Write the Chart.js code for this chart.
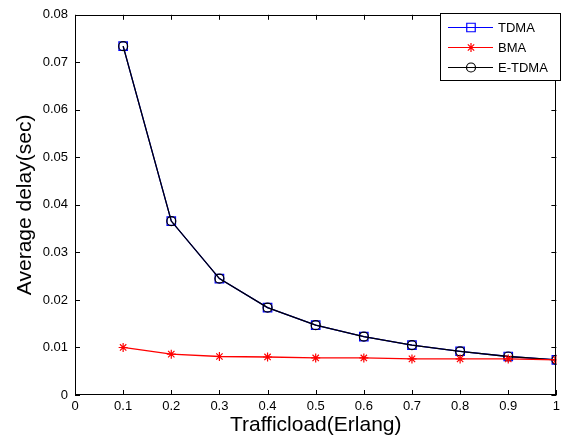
<!DOCTYPE html>
<html>
<head>
<meta charset="utf-8">
<script src="https://cdn.jsdelivr.net/npm/chart.js@4/dist/chart.umd.min.js"></script>
<style>
  html, body { margin: 0; padding: 0; background: #ffffff; }
  canvas { display: block; }
</style>
</head>
<body>
<canvas id="delayChart" width="564" height="443"></canvas>
<script>
// Traffic load (Erlang) at which each scheme was evaluated
const loads = [0.1, 0.2, 0.3, 0.4, 0.5, 0.6, 0.7, 0.8, 0.9, 1.0];

// Average delay in seconds for each scheme
const tdmaDelay  = [0.0734, 0.0366, 0.0245, 0.0184, 0.0147, 0.0123, 0.0105, 0.0092, 0.0081, 0.0074];
const bmaDelay   = [0.0100, 0.0086, 0.0081, 0.0080, 0.0078, 0.0078, 0.0076, 0.0076, 0.0076, 0.0074];
const etdmaDelay = [0.0734, 0.0366, 0.0245, 0.0184, 0.0147, 0.0123, 0.0105, 0.0092, 0.0081, 0.0074];

// Axis ticks and their labels
const xTicks = [0, 0.1, 0.2, 0.3, 0.4, 0.5, 0.6, 0.7, 0.8, 0.9, 1];
const xTickLabels = ['0', '0.1', '0.2', '0.3', '0.4', '0.5', '0.6', '0.7', '0.8', '0.9', '1'];
const yTicks = [0, 0.01, 0.02, 0.03, 0.04, 0.05, 0.06, 0.07, 0.08];
const yTickLabels = ['0', '0.01', '0.02', '0.03', '0.04', '0.05', '0.06', '0.07', '0.08'];

const seriesNames = ['TDMA', 'BMA', 'E-TDMA'];
const xTitle = 'Trafficload(Erlang)';
const yTitle = 'Average delay(sec)';

const FONT = '"Liberation Sans", Arial, Helvetica, sans-serif';

const toPoints = (ys) => loads.map((x, i) => ({ x: x, y: ys[i] }));

// Box frame, inward tick marks, axis titles and legend
const framePlugin = {
  id: 'frame',
  afterDraw(chart) {
    const ctx = chart.ctx;
    const a = chart.chartArea;
    const xs = chart.scales.x;
    const ys = chart.scales.y;
    const tick = 5;
    ctx.save();
    ctx.strokeStyle = '#000000';
    ctx.lineWidth = 1;
    // box
    ctx.strokeRect(Math.round(a.left) + 0.5, Math.round(a.top) + 0.5,
                   Math.round(a.right - a.left) - 1, Math.round(a.bottom - a.top) - 1);
    ctx.beginPath();
    xTicks.forEach(v => {
      const px = Math.round(xs.getPixelForValue(v)) + 0.5;
      ctx.moveTo(px, a.bottom);
      ctx.lineTo(px, a.bottom - tick);
      ctx.moveTo(px, a.top);
      ctx.lineTo(px, a.top + tick);
    });
    yTicks.forEach(v => {
      const py = Math.round(ys.getPixelForValue(v)) + 0.5;
      ctx.moveTo(a.left, py);
      ctx.lineTo(a.left + tick, py);
      ctx.moveTo(a.right, py);
      ctx.lineTo(a.right - tick, py);
    });
    ctx.stroke();

    // axis titles
    ctx.fillStyle = '#000000';
    ctx.font = '21px ' + FONT;
    ctx.textAlign = 'center';
    ctx.textBaseline = 'middle';
    ctx.fillText(xTitle, (a.left + a.right) / 2, 425);
    ctx.save();
    ctx.translate(25, (a.top + a.bottom) / 2);
    ctx.rotate(-Math.PI / 2);
    ctx.fillText(yTitle, 0, 0);
    ctx.restore();

    // legend
    const lx = 440.5, ly = 13.5, lw = 120, lh = 67;
    ctx.fillStyle = '#ffffff';
    ctx.fillRect(lx, ly, lw, lh);
    ctx.strokeStyle = '#000000';
    ctx.strokeRect(lx, ly, lw, lh);
    const rows = [27, 47, 67];
    chart.data.datasets.forEach((ds) => {
      const ry = rows[seriesNames.indexOf(ds.label)];
      ctx.strokeStyle = ds.borderColor;
      ctx.lineWidth = 1.2;
      ctx.beginPath();
      ctx.moveTo(448, ry + 0.5);
      ctx.lineTo(493, ry + 0.5);
      ctx.stroke();
      ctx.fillStyle = 'rgba(0,0,0,0)';
      Chart.helpers.drawPoint(ctx, {
        pointStyle: ds.pointStyle,
        radius: ds.pointRadius,
        rotation: 0,
        borderWidth: ds.pointBorderWidth
      }, 471, ry + 0.5);
      ctx.fillStyle = '#000000';
      ctx.font = '13px ' + FONT;
      ctx.textAlign = 'left';
      ctx.textBaseline = 'middle';
      ctx.fillText(ds.label, 498, ry + 1);
    });
    ctx.restore();
  }
};

const whiteBg = {
  id: 'whiteBg',
  beforeDraw(chart) {
    const ctx = chart.ctx;
    ctx.save();
    ctx.fillStyle = '#ffffff';
    ctx.fillRect(0, 0, chart.width, chart.height);
    ctx.restore();
  }
};

new Chart(document.getElementById('delayChart'), {
  type: 'line',
  data: {
    datasets: [
      {
        label: seriesNames[0],
        data: toPoints(tdmaDelay),
        borderColor: '#0000ff',
        backgroundColor: 'rgba(0,0,0,0)',
        borderWidth: 1.3,
        pointStyle: 'rect',
        pointRadius: 6,
        pointBorderWidth: 1.2,
        pointBorderColor: '#0000ff',
        pointBackgroundColor: 'rgba(0,0,0,0)',
        order: 3
      },
      {
        label: seriesNames[1],
        data: toPoints(bmaDelay),
        borderColor: '#ff0000',
        backgroundColor: 'rgba(0,0,0,0)',
        borderWidth: 1.3,
        pointStyle: 'star',
        pointRadius: 4.5,
        pointBorderWidth: 1.2,
        pointBorderColor: '#ff0000',
        pointBackgroundColor: 'rgba(0,0,0,0)',
        order: 1
      },
      {
        label: seriesNames[2],
        data: toPoints(etdmaDelay),
        borderColor: '#000000',
        backgroundColor: 'rgba(0,0,0,0)',
        borderWidth: 1.3,
        pointStyle: 'circle',
        pointRadius: 4.5,
        pointBorderWidth: 1.2,
        pointBorderColor: '#000000',
        pointBackgroundColor: 'rgba(0,0,0,0)',
        order: 2
      }
    ]
  },
  options: {
    responsive: false,
    animation: false,
    devicePixelRatio: 1,
    layout: { padding: { top: 13, right: 3, left: 0, bottom: 0 } },
    plugins: {
      legend: { display: false },
      tooltip: { enabled: false }
    },
    elements: { line: { tension: 0 } },
    scales: {
      x: {
        type: 'linear',
        min: 0,
        max: 1,
        afterBuildTicks(scale) { scale.ticks = xTicks.map(v => ({ value: v })); },
        afterFit(scale) { scale.height = 48; },
        grid: { display: false, drawTicks: false },
        border: { display: false },
        ticks: {
          autoSkip: false,
          maxRotation: 0,
          padding: 4,
          color: '#000000',
          font: { family: FONT, size: 13 },
          callback: (v) => xTickLabels[xTicks.findIndex(t => Math.abs(t - v) < 1e-9)]
        }
      },
      y: {
        type: 'linear',
        min: 0,
        max: 0.08,
        afterBuildTicks(scale) { scale.ticks = yTicks.map(v => ({ value: v })); },
        afterFit(scale) { scale.width = 75; },
        grid: { display: false, drawTicks: false },
        border: { display: false },
        ticks: {
          autoSkip: false,
          padding: 7,
          color: '#000000',
          font: { family: FONT, size: 13 },
          callback: (v) => yTickLabels[yTicks.findIndex(t => Math.abs(t - v) < 1e-9)]
        }
      }
    }
  },
  plugins: [whiteBg, framePlugin]
});
</script>
</body>
</html>
